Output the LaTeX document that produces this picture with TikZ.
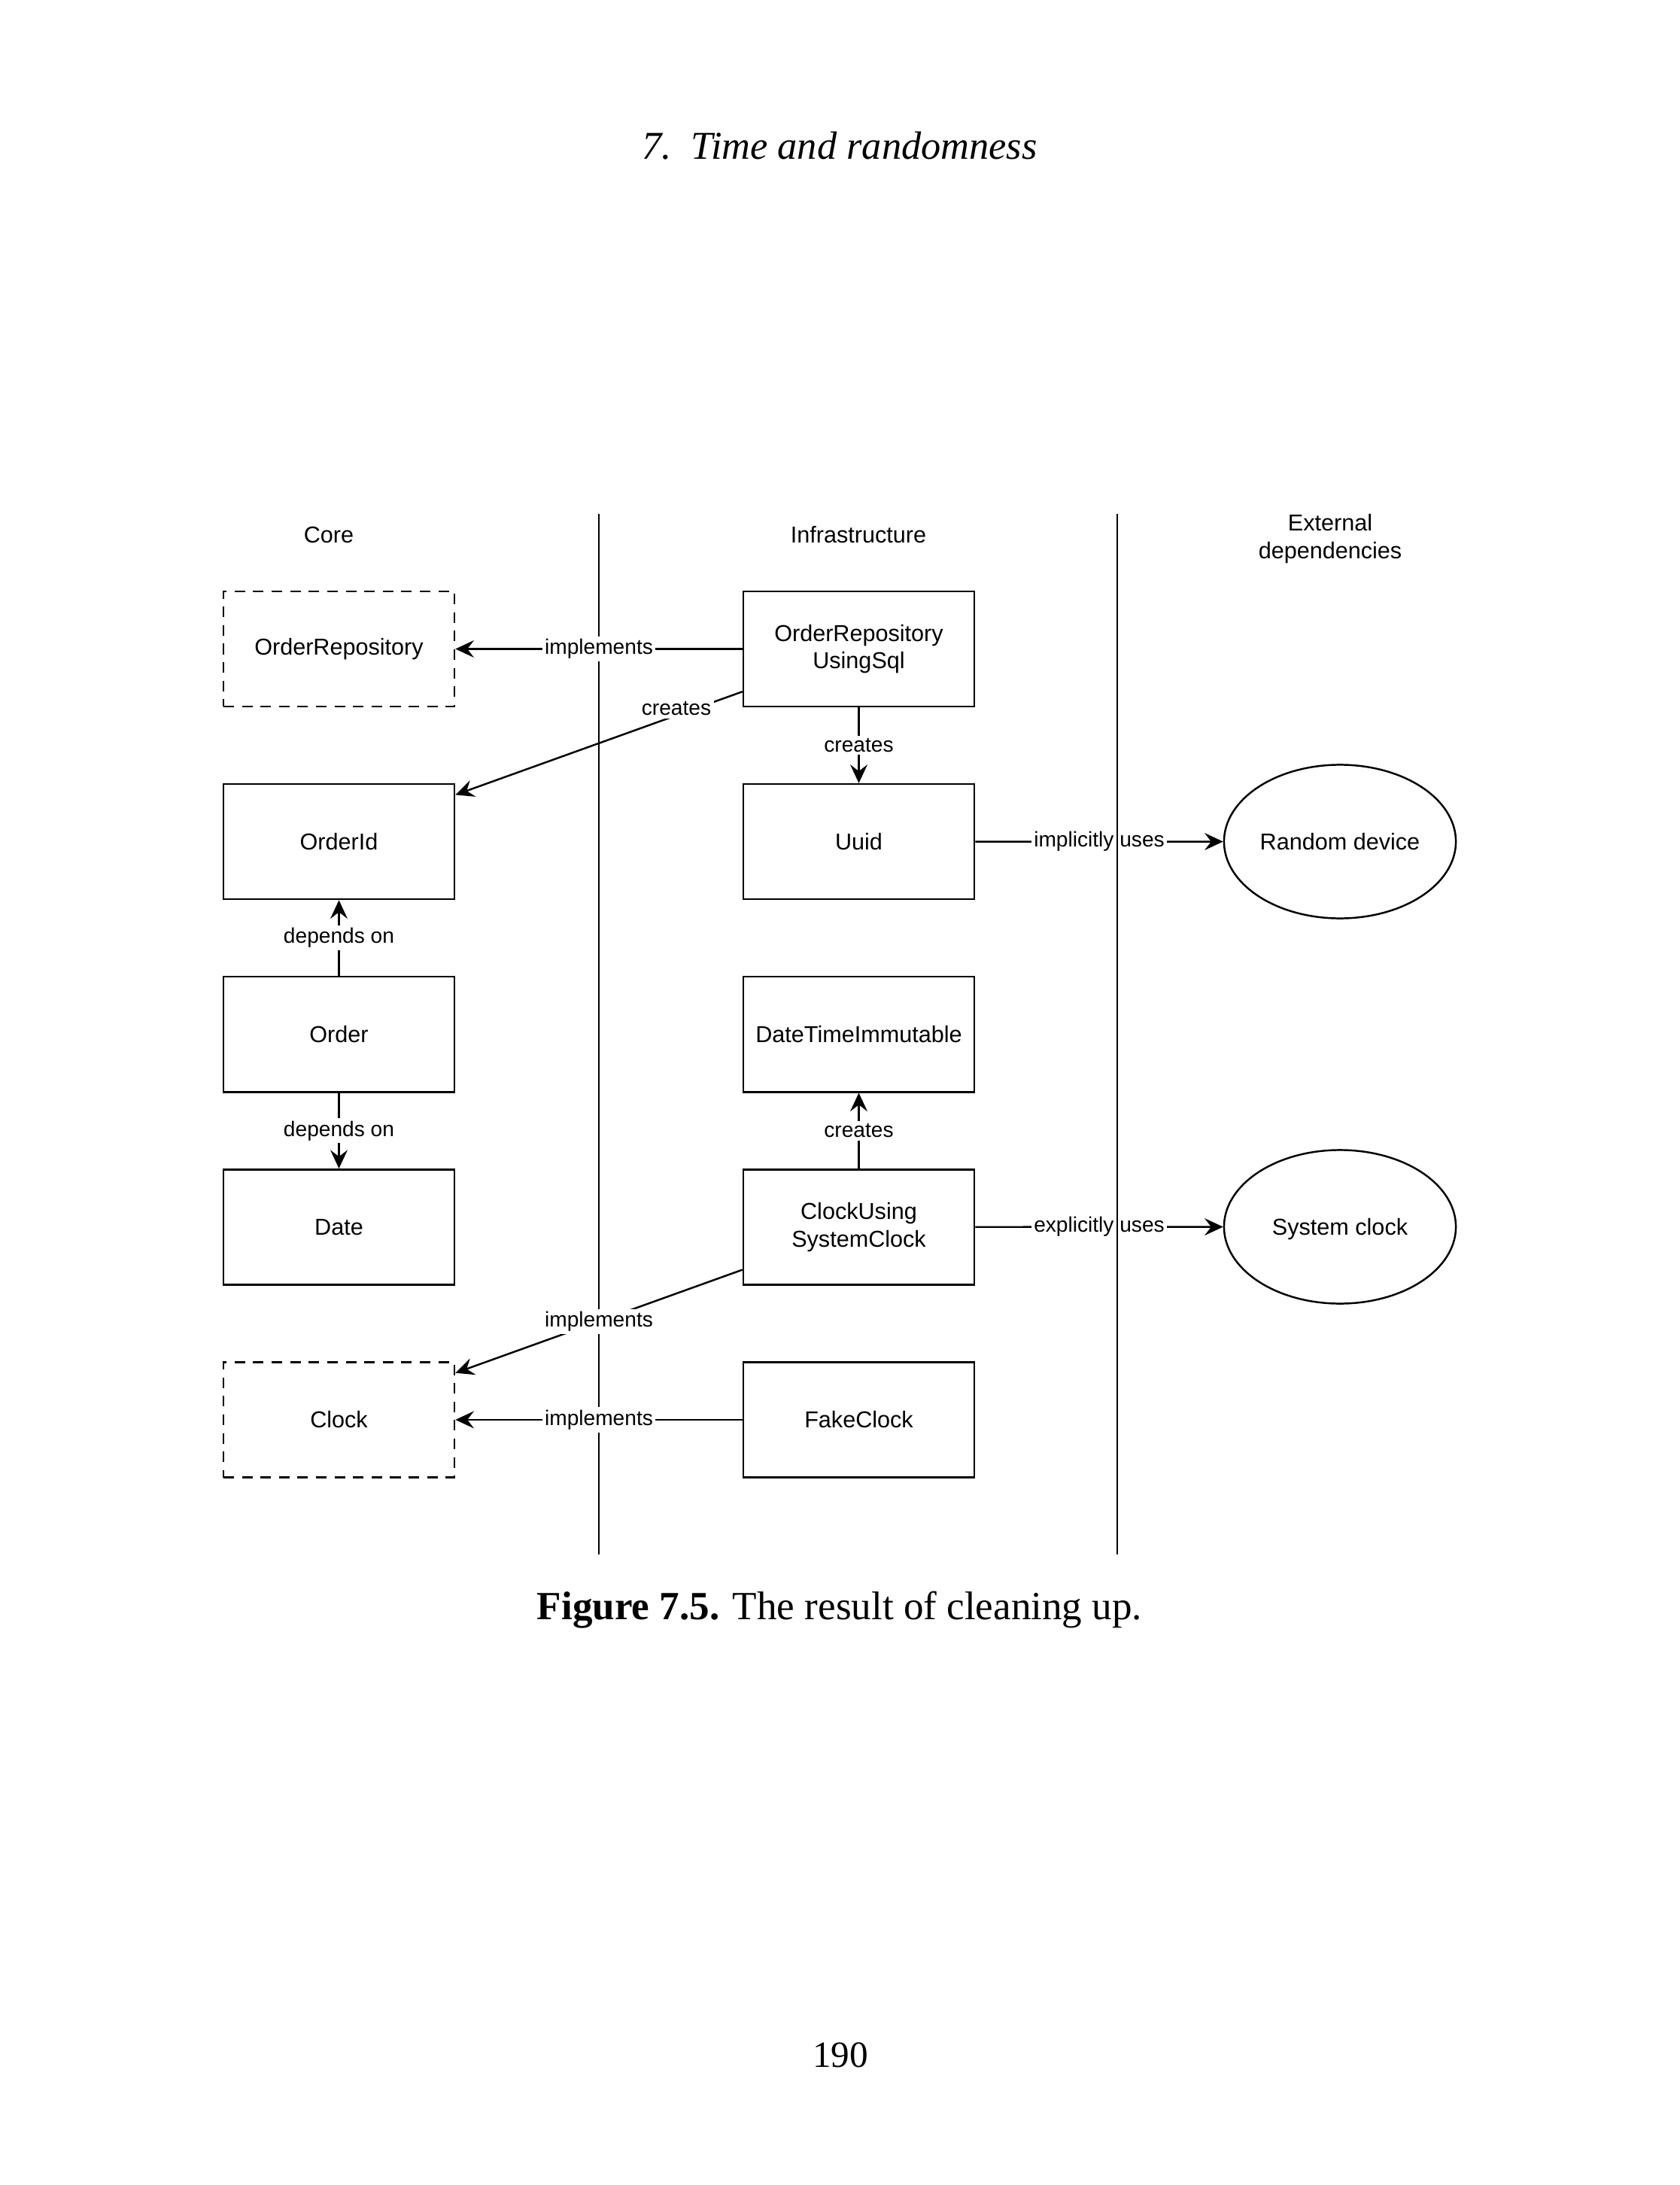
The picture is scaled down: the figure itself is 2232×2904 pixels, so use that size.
\documentclass[tikz,border=0pt]{standalone}
\usepackage{fontspec}
\setmainfont{Liberation Serif}
\setsansfont{Liberation Sans}
\usetikzlibrary{
    positioning,   % Relative positioning
    shapes.geometric, % Ellipses
    arrows.meta,   % Arrow tips
    calc           % Points along box sides
}
\tikzset{class box/.style={
    rectangle,
    draw,
    line width=0.7pt,
    align=center,
    minimum width=3.07cm,
    minimum height=1.53cm,
    font=\sffamily\fontsize{8.7}{10.4}\selectfont
}}
\tikzset{interface box/.style={
    class box,
    dash pattern=on 4pt off 3pt
}}
\tikzset{outside system/.style={
    ellipse,
    draw,
    line width=0.7pt,
    inner sep=0pt,
    text height=0.72em,
    text depth=0.1em,
    minimum width=3.08cm,
    minimum height=2.04cm,
    font=\sffamily\fontsize{8.7}{10.4}\selectfont
}}
\tikzset{relation/.style={
    draw,
    line width=0.7pt,
    -{Stealth[length=7pt,width=6.5pt,inset=2.5pt]}
}}
\tikzset{relation label/.style={
    fill=white,
    inner sep=1pt,
    font=\sffamily\fontsize{8}{9.6}\selectfont
}}
\tikzset{lane title/.style={
    align=center,
    font=\sffamily\fontsize{8.7}{10.4}\selectfont
}}
\tikzset{lane line/.style={line width=0.5pt}}

\begin{document}
\begin{tikzpicture}[x=0.01cm,y=-0.01cm,node distance=1.005cm]
    \useasboundingbox (0,0) rectangle (2232,2904);

    % page furniture
    \node (header) at (1116,194) {\fontsize{14.9}{17}\selectfont\itshape 7.\enspace Time and randomness};
    \node (caption) at (1116,2140) {\fontsize{15.1}{18}\selectfont\textbf{Figure 7.5.} The result of cleaning up.};
    \node (pagenum) at (1117,2731) {\fontsize{14}{17}\selectfont 190};

    % lanes
    \node[lane title] (core title) at (437,711) {Core};
    \node[lane title] (infra title) at (1141,711) {Infrastructure};
    \node[lane title] (ext title) at (1768,716) {External\\dependencies};
    \coordinate (core top) at (796,683);
    \coordinate (core bottom) at (796,2066);
    \coordinate (infra top) at (1485,683);
    \coordinate (infra bottom) at (1485,2066);
    \draw[lane line] (core top) -- (core bottom);

    % core
    \node[interface box] (orderrepo) at (450.5,862.5) {OrderRepository};
    \node[class box] (orderid) [below=of orderrepo] {OrderId};
    \node[class box] (order) [below=of orderid] {Order};
    \node[class box] (date) [below=of order] {Date};
    \node[interface box] (clock) [below=of date] {Clock};

    % infrastructure
    \node[class box] (sqlrepo) at (1141.5,862.5) {OrderRepository\\UsingSql};
    \node[class box] (uuid) [below=of sqlrepo] {Uuid};
    \node[class box] (datetime) [below=of uuid] {DateTimeImmutable};
    \node[class box] (sysclock) [below=of datetime] {ClockUsing\\SystemClock};
    \node[class box] (fakeclock) [below=of sysclock] {FakeClock};

    % external dependencies
    \node[outside system] (random) at (1781,1118.5) {Random device};
    \node[outside system] (systemclock) at (1781,1630.5) {System clock};

    \draw[relation] (sqlrepo) -- node[relation label] {implements} (orderrepo);
    \draw[relation] ($(sqlrepo.south west)!0.135!(sqlrepo.north west)$)
        -- node[relation label, pos=0.23, yshift=0.09cm] {creates}
        ($(orderid.north east)!0.1!(orderid.south east)$);
    \draw[relation] (sqlrepo) -- node[relation label] {creates} (uuid);
    \draw[relation] (order) -- node[relation label] {depends on} (orderid);
    \draw[relation] (order) -- node[relation label] {depends on} (date);
    \draw[relation] (sysclock) -- node[relation label] {creates} (datetime);
    \draw[relation] ($(sysclock.south west)!0.135!(sysclock.north west)$)
        -- node[relation label] {implements}
        ($(clock.north east)!0.1!(clock.south east)$);
    \draw[relation] (fakeclock) -- node[relation label] {implements} (clock);
    \draw[relation] (uuid) -- node[relation label] {implicitly uses} (random);
    \draw[relation] (sysclock) -- node[relation label] {explicitly uses} (systemclock);

    \draw[lane line] (infra top) -- (infra bottom);
\end{tikzpicture}
\end{document}
